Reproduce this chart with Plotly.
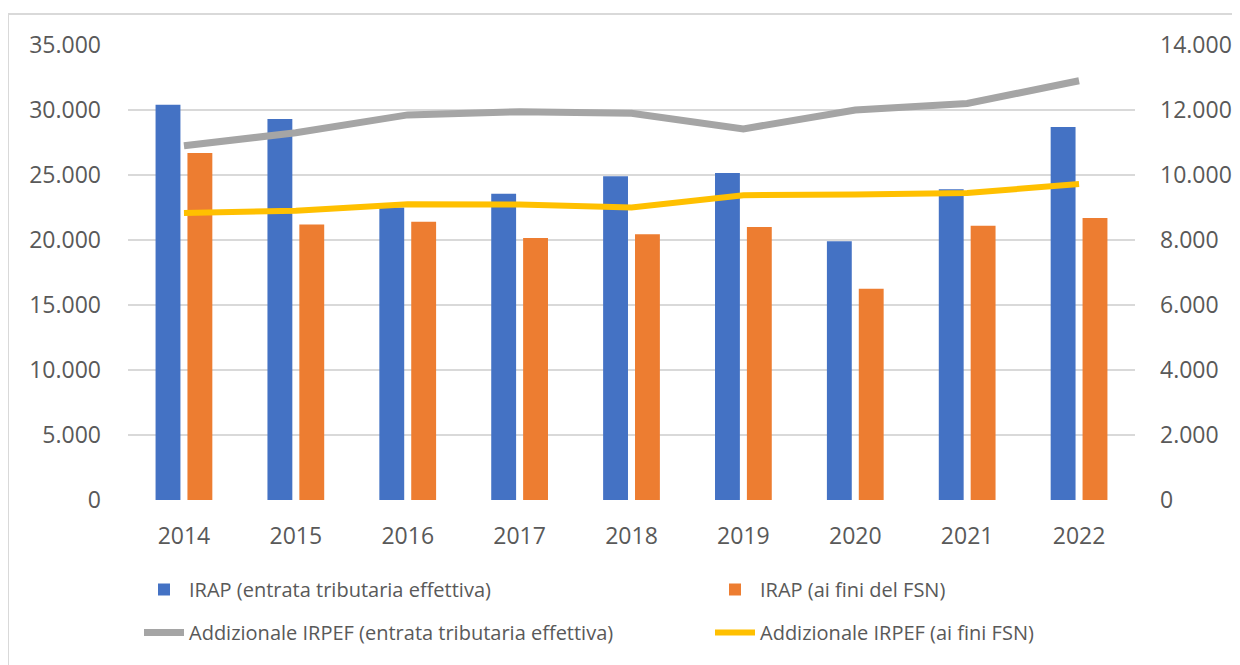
import plotly.graph_objects as go

# Data
years = ['2014', '2015', '2016', '2017', '2018', '2019', '2020', '2021', '2022']
irap_effettiva = [30400, 29300, 22500, 23550, 24900, 25150, 19900, 23900, 28700]
irap_fsn = [26700, 21200, 21400, 20150, 20450, 21000, 16250, 21100, 21700]
irpef_effettiva = [10900, 11300, 11850, 11950, 11900, 11420, 12000, 12200, 12900]
irpef_fsn = [8830, 8900, 9100, 9090, 9000, 9380, 9400, 9450, 9720]

left_ticks = [0, 5000, 10000, 15000, 20000, 25000, 30000, 35000]
left_text = ['0', '5.000', '10.000', '15.000', '20.000', '25.000', '30.000', '35.000']
right_ticks = [0, 2000, 4000, 6000, 8000, 10000, 12000, 14000]
right_text = ['0', '2.000', '4.000', '6.000', '8.000', '10.000', '12.000', '14.000']

FONT = 'Open Sans'
TXT = '#595959'

fig = go.Figure()

fig.add_trace(go.Bar(x=years, y=irap_effettiva, name='IRAP (entrata tributaria effettiva)',
                     marker=dict(color='#4472C4', line=dict(width=0)),
                     legend='legend', legendgroup='a'))
fig.add_trace(go.Bar(x=years, y=irap_fsn, name='IRAP (ai fini del FSN)',
                     marker=dict(color='#ED7D31', line=dict(width=0)),
                     legend='legend2', legendgroup='b'))
fig.add_trace(go.Scatter(x=years, y=irpef_effettiva, name='Addizionale IRPEF (entrata tributaria effettiva)',
                         mode='lines', line=dict(color='#A5A5A5', width=7), yaxis='y2',
                         legend='legend', legendgroup='c'))
fig.add_trace(go.Scatter(x=years, y=irpef_fsn, name='Addizionale IRPEF (ai fini FSN)',
                         mode='lines', line=dict(color='#FFC000', width=6), yaxis='y2',
                         legend='legend2', legendgroup='d'))

legend_style = dict(font=dict(family=FONT, size=20, color=TXT), bgcolor='rgba(0,0,0,0)',
                    orientation='v', xref='container', yref='container', yanchor='top',
                    xanchor='left', tracegroupgap=14, itemwidth=40, traceorder='grouped')

fig.update_layout(
    width=1240, height=665,
    margin=dict(l=120, r=113, t=37, b=173, autoexpand=False),
    paper_bgcolor='white', plot_bgcolor='white',
    barmode='group', bargap=0.43, bargroupgap=0.22,
    font=dict(family=FONT, color=TXT),
    xaxis=dict(tickfont=dict(size=23, color=TXT), showgrid=False, showline=False,
               ticks='', ticklabelstandoff=20, tickangle=0, automargin=False),
    yaxis=dict(range=[0, 35000], tickvals=left_ticks, ticktext=left_text,
               tickfont=dict(size=23, color=TXT), gridcolor='#D9D9D9', gridwidth=1.5,
               zeroline=False, showline=False, ticklabelstandoff=26, automargin=False),
    yaxis2=dict(range=[0, 14000], tickvals=right_ticks, ticktext=right_text, overlaying='y',
                side='right', showgrid=False, zeroline=False, showline=False,
                tickfont=dict(size=23, color=TXT), ticklabelstandoff=24, automargin=False),
    legend=dict(x=131 / 1240, y=1 - 562 / 665, **legend_style),
    legend2=dict(x=702 / 1240, y=1 - 562 / 665, **legend_style),
    shapes=[dict(type='rect', xref='paper', yref='paper',
                 x0=-120 / 1007, x1=1.2, y0=-1, y1=1 + 31 / 455,
                 line=dict(color='#D9D9D9', width=2), fillcolor='rgba(0,0,0,0)', layer='below')],
)

fig.write_html('out.html')
